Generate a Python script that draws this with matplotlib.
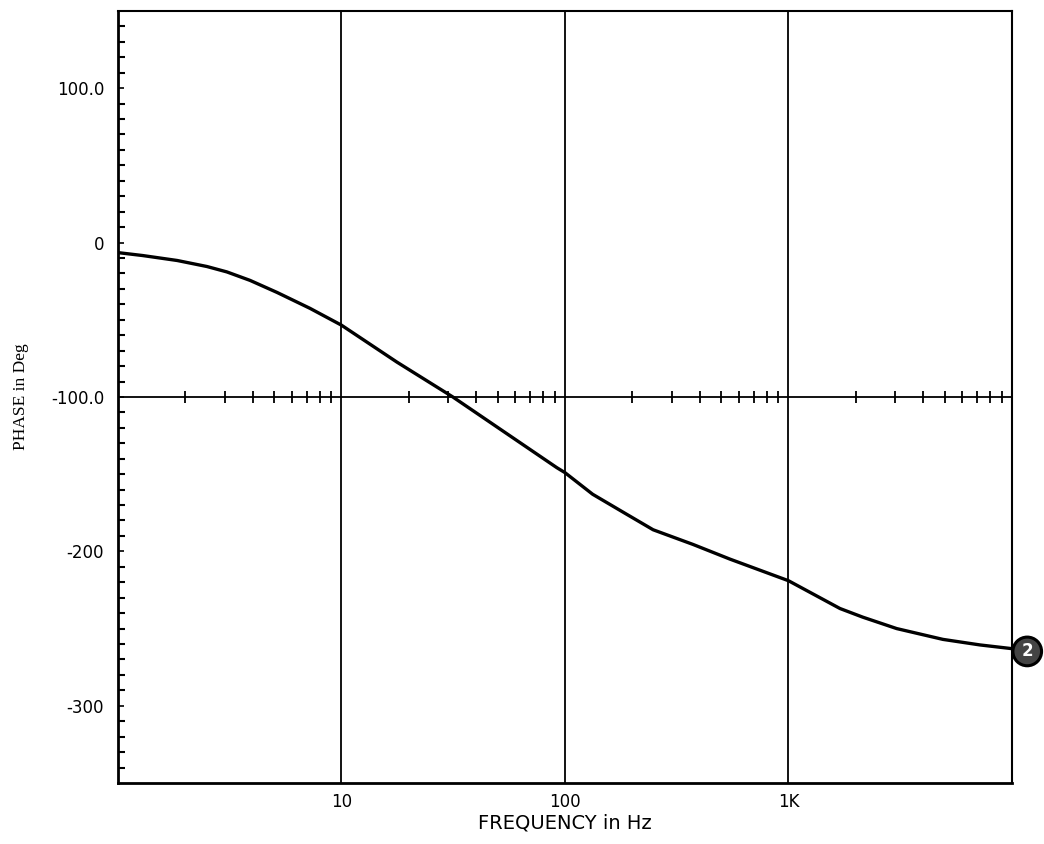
import matplotlib
matplotlib.use("Agg")
import matplotlib.pyplot as plt
from matplotlib.ticker import FixedLocator, NullLocator

# Phase response
freq = [1.0, 1.29, 1.84, 2.5, 3.07, 3.9, 5.15, 7.23, 10, 17.7, 31.5, 49.6, 92,
        100, 133, 189, 248, 374, 547, 1000, 1700, 2150, 3050, 4910, 7200, 10000]
phase = [-6.5, -8.4, -11.6, -15.5, -19, -24.5, -32.3, -42.6, -53.5, -77.4, -100,
         -119.4, -145.8, -149, -163, -176, -186, -195.5, -205, -219, -237, -242.6,
         -250, -257, -260.6, -263]

x_ticks = [10, 100, 1000]
x_labels = ["10", "100", "1K"]
y_ticks = [100, 0, -100, -200, -300]
y_labels = ["100.0", "0", "-100.0", "-200", "-300"]

fig = plt.figure(figsize=(10.44, 8.44), dpi=100)
ax = fig.add_axes([0.113, 0.0723, 0.8563, 0.9147])

ax.set_xscale("log")
ax.set_xlim(1, 10000)
ax.set_ylim(-350, 150)

# vertical grid at decades
for xv in x_ticks:
    ax.axvline(xv, color="black", lw=1.3, zorder=1)

# horizontal reference line at -100 with log cross ticks
ax.axhline(-100, color="black", lw=1.3, zorder=1)
cross = [k * 10 ** d for d in range(4) for k in range(2, 10)]
ax.plot(cross, [-100] * len(cross), ls="none", marker="|", ms=8, mew=1.3,
        color="black", zorder=1)

ax.plot(freq, phase, color="black", lw=2.4, zorder=3, solid_capstyle="round",
        solid_joinstyle="round")

# trace marker "2" at the end of the curve
ax.annotate("2", xy=(freq[-1], phase[-1]), xytext=(11, -2),
            textcoords="offset points", ha="center", va="center",
            fontsize=12, fontweight="bold", color="white", annotation_clip=False,
            bbox=dict(boxstyle="circle,pad=0.32", fc="#444444", ec="black", lw=2.2),
            zorder=5)

ax.xaxis.set_major_locator(FixedLocator(x_ticks))
ax.xaxis.set_minor_locator(NullLocator())
ax.set_xticklabels(x_labels)
ax.tick_params(axis="x", which="both", length=0, pad=7, labelsize=12)

ax.yaxis.set_major_locator(FixedLocator(y_ticks))
ax.set_yticklabels(y_labels)
ax.yaxis.set_minor_locator(FixedLocator(list(range(-340, 150, 10))))
ax.tick_params(axis="y", which="major", direction="in", length=4, width=1.2,
               pad=10, labelsize=12)
ax.tick_params(axis="y", which="minor", direction="in", length=5, width=1.5)

for side, w in [("left", 2.0), ("bottom", 2.0), ("top", 1.5), ("right", 1.5)]:
    ax.spines[side].set_linewidth(w)

ax.set_xlabel("FREQUENCY in Hz", fontsize=14, labelpad=2)
ax.set_ylabel("PHASE in Deg", fontsize=12.5, family="Liberation Serif", labelpad=16)

fig.savefig("out.png", dpi=100)
